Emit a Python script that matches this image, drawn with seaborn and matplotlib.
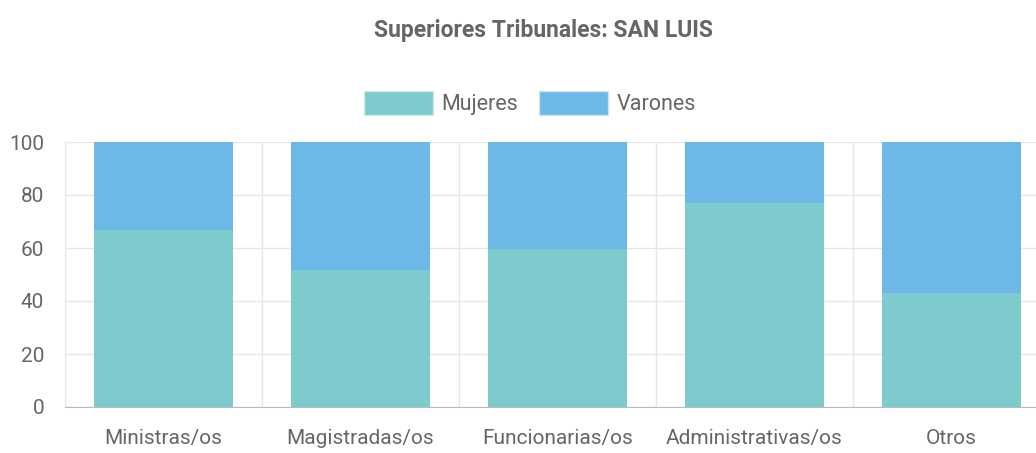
import matplotlib
matplotlib.use("Agg")
import matplotlib.pyplot as plt
import seaborn as sns
import pandas as pd
from matplotlib.patches import Patch

categorias = ["Ministras/os", "Magistradas/os", "Funcionarias/os", "Administrativas/os", "Otros"]
mujeres = [66.7, 51.6, 59.6, 76.9, 42.9]
varones = [33.3, 48.4, 40.4, 23.1, 57.1]

col_muj = "#7ECBCD"
col_var = "#6CB8E6"
gris = "#666666"

df = pd.DataFrame({"categoria": categorias, "Mujeres": mujeres, "Varones": varones})
df["total"] = df["Mujeres"] + df["Varones"]

sns.set_style("white")
plt.rcParams["font.family"] = ["Roboto", "DejaVu Sans"]

fig = plt.figure(figsize=(10.36, 4.53), dpi=100)
ax = fig.add_axes([65 / 1036, 46 / 453, 985 / 1036, 265 / 453])

# stacked: total first (varones on top), then mujeres over it
sns.barplot(data=df, x="categoria", y="total", color=col_var, width=0.71,
            saturation=1, linewidth=0, ax=ax, zorder=2)
sns.barplot(data=df, x="categoria", y="Mujeres", color=col_muj, width=0.71,
            saturation=1, linewidth=0, ax=ax, zorder=3)

ax.set_ylim(0, 100)
ax.set_xlim(-0.5, 4.5)
ax.set_yticks(range(0, 101, 20))
ax.set_xlabel("")
ax.set_ylabel("")

ax.set_xticks([i - 0.5 for i in range(6)], minor=True)
ax.tick_params(axis="x", which="major", length=0, labelsize=15, labelcolor=gris, pad=16)
ax.tick_params(axis="x", which="minor", length=24, color="#e6e6e6", width=1)
ax.tick_params(axis="y", length=12, color="#e6e6e6", labelsize=15, labelcolor=gris, pad=3)
ax.grid(axis="y", color="#e6e6e6", linewidth=1, zorder=0)
ax.grid(axis="x", which="minor", color="#e6e6e6", linewidth=1, zorder=0)
ax.set_axisbelow(True)

for s in ["top", "right"]:
    ax.spines[s].set_visible(False)
ax.spines["left"].set_color("#e6e6e6")
ax.spines["bottom"].set_color("#bbbbbb")

fig.text(543 / 1036, 1 - 30 / 453, "Superiores Tribunales: SAN LUIS", ha="center", va="center",
         fontsize=16.5, fontweight="bold", color=gris)

handles = [Patch(facecolor=col_muj, edgecolor="#cfe9ea", label="Mujeres"),
           Patch(facecolor=col_var, edgecolor="#cde3f3", label="Varones")]
fig.legend(handles=handles, loc="center", bbox_to_anchor=(530 / 1036, 1 - 103 / 453), ncol=2,
           frameon=False, fontsize=15.5, labelcolor=gris, handlelength=3.2, handleheight=1.4,
           handletextpad=0.4, columnspacing=1.0)

fig.savefig("out.png", dpi=100)
